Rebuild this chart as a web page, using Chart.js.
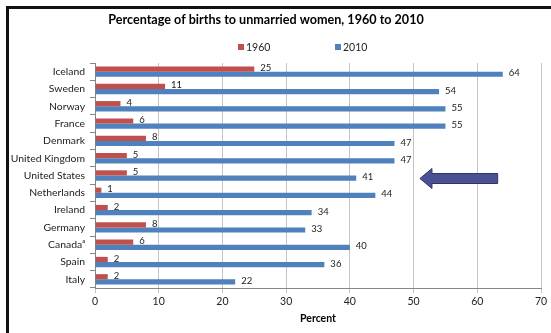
<!DOCTYPE html>
<html>
<head>
<meta charset="utf-8">
<script src="https://cdn.jsdelivr.net/npm/chart.js@4"></script>
<style>
html, body { margin: 0; padding: 0; background: #fff; }
#wrap { width: 551px; height: 333px; }
</style>
</head>
<body>
<div id="wrap"><canvas id="births-chart" width="551" height="333"></canvas></div>
<script>
const countries = ['Iceland', 'Sweden', 'Norway', 'France', 'Denmark', 'United Kingdom',
    'United States', 'Netherlands', 'Ireland', 'Germany', 'Canada\u1D43', 'Spain', 'Italy'];
const births1960 = [25, 11, 4, 6, 8, 5, 5, 1, 2, 8, 6, 2, 2];
const births2010 = [64, 54, 55, 55, 47, 47, 41, 44, 34, 33, 40, 36, 22];
const seriesNames = ['1960', '2010'];
const percentMax = 70;
const percentStep = 10;

// arrow pointing at the US bars, in percent units
const arrowRow = 'United States';
const arrowTail = 63.2;
const arrowTip = 51;

const fontFamily = 'Lato, "Liberation Sans", sans-serif';
const red = '#C0504D';
const blue = '#4F81BD';

const framePlugin = {
    id: 'frame',
    beforeDraw(chart) {
        const c = chart.ctx;
        c.save();
        c.fillStyle = '#fff';
        c.fillRect(0, 0, chart.width, chart.height);
        c.fillStyle = '#111';
        c.fillRect(6, 6, chart.width - 6, 3);
        c.fillRect(6, 6, 3, chart.height - 6);
        c.restore();
    }
};

const headerPlugin = {
    id: 'header',
    afterDraw(chart) {
        const c = chart.ctx;
        c.save();
        c.fillStyle = '#000';
        c.font = 'bold 12.6px ' + fontFamily;
        c.textAlign = 'center';
        c.textBaseline = 'middle';
        c.fillText('Percentage of births to unmarried women, 1960 to 2010', 266, 20);

        // legend
        const colors = [red, blue];
        const xs = [238, 335];
        c.font = '10.5px ' + fontFamily;
        c.textAlign = 'left';
        seriesNames.forEach((name, i) => {
            c.fillStyle = colors[i];
            c.fillRect(xs[i], 44, 6, 6);
            c.fillStyle = '#222';
            c.fillText(name, xs[i] + 8, 47.5);
        });
        c.restore();
    }
};

const valueLabelPlugin = {
    id: 'valueLabels',
    afterDatasetsDraw(chart) {
        const c = chart.ctx;
        c.save();
        c.fillStyle = '#222';
        c.font = '9.5px ' + fontFamily;
        c.textAlign = 'left';
        c.textBaseline = 'middle';
        chart.data.datasets.forEach((ds, i) => {
            chart.getDatasetMeta(i).data.forEach((bar, j) => {
                c.fillText(String(ds.data[j]), bar.x + 6, bar.y - 1);
            });
        });
        c.restore();
    }
};

const arrowPlugin = {
    id: 'arrow',
    afterDatasetsDraw(chart) {
        const x = chart.scales.x, y = chart.scales.y;
        const tip = x.getPixelForValue(arrowTip);
        const tail = x.getPixelForValue(arrowTail);
        const cy = y.getPixelForValue(countries.indexOf(arrowRow)) + 3;
        const c = chart.ctx;
        c.save();
        c.beginPath();
        c.moveTo(tip, cy);
        c.lineTo(tip + 12, cy - 10);
        c.lineTo(tip + 12, cy - 5);
        c.lineTo(tail, cy - 5);
        c.lineTo(tail, cy + 5);
        c.lineTo(tip + 12, cy + 5);
        c.lineTo(tip + 12, cy + 10);
        c.closePath();
        c.fillStyle = '#4B5294';
        c.fill();
        c.strokeStyle = '#2E3868';
        c.lineWidth = 1;
        c.stroke();
        c.restore();
    }
};

new Chart(document.getElementById('births-chart'), {
    type: 'bar',
    data: {
        labels: countries,
        datasets: [{
            label: seriesNames[0],
            data: births1960,
            backgroundColor: red
        }, {
            label: seriesNames[1],
            data: births2010,
            backgroundColor: blue
        }]
    },
    options: {
        indexAxis: 'y',
        responsive: false,
        animation: false,
        categoryPercentage: 0.6,
        barPercentage: 1,
        layout: { padding: { left: 9, right: 10, top: 63, bottom: 0 } },
        scales: {
            x: {
                min: 0,
                max: percentMax,
                ticks: { stepSize: percentStep, color: '#222', padding: 2, font: { family: fontFamily, size: 10.5 } },
                grid: { color: '#c4c4c4', tickLength: 5 },
                border: { color: '#868686' },
                title: {
                    display: true,
                    text: 'Percent',
                    color: '#000',
                    font: { family: fontFamily, size: 10.5, weight: 'bold' },
                    padding: { top: 4, bottom: 8 }
                },
                afterFit(scale) { scale.height = 45; }
            },
            y: {
                ticks: { color: '#222', padding: 5, autoSkip: false, font: { family: fontFamily, size: 10.4 } },
                grid: { drawOnChartArea: false, color: '#868686', tickLength: 5 },
                border: { color: '#868686' },
                afterFit(scale) { scale.width = 86; }
            }
        },
        plugins: {
            legend: { display: false },
            tooltip: { enabled: false }
        }
    },
    plugins: [framePlugin, headerPlugin, valueLabelPlugin, arrowPlugin]
});
</script>
</body>
</html>
